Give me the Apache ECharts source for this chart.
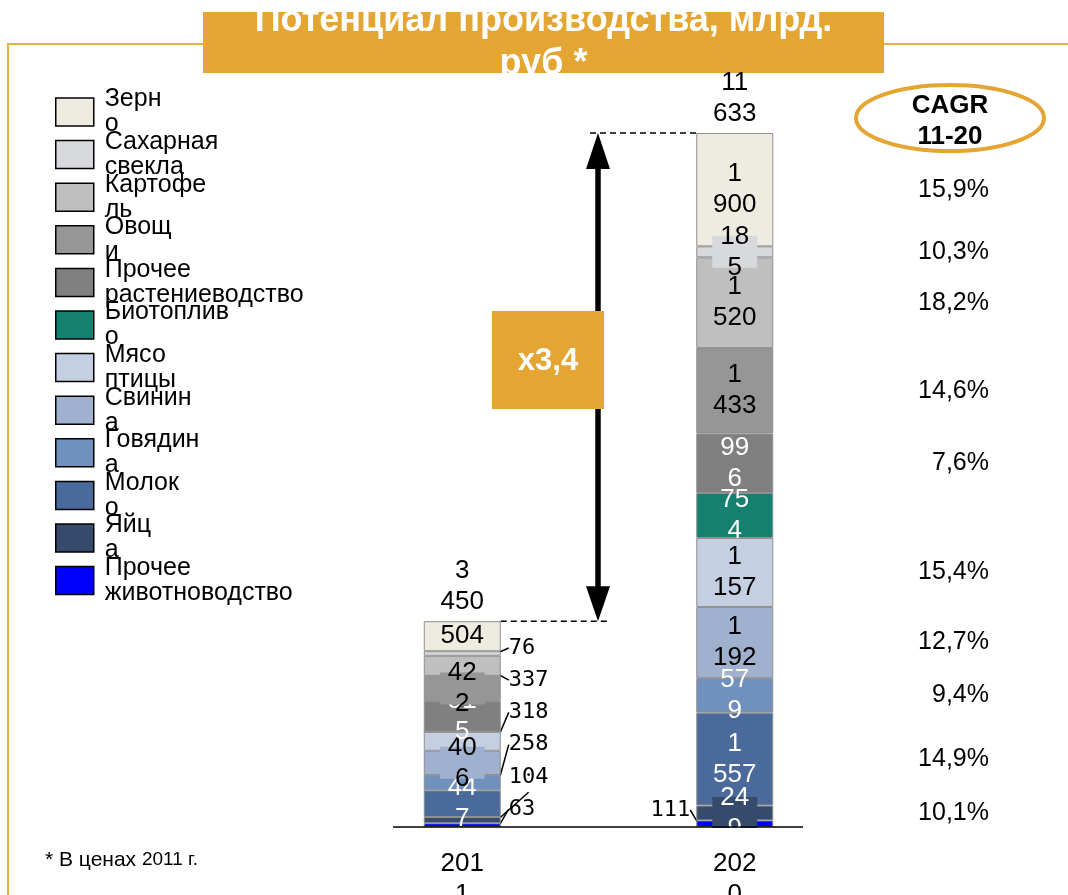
<!DOCTYPE html>
<html>
<head>
<meta charset="utf-8">
<script src="https://cdn.jsdelivr.net/npm/echarts@6/dist/echarts.min.js"></script>
<style>
  html, body { margin: 0; padding: 0; background: #fff; }
  #chart { width: 1068px; height: 895px; }
</style>
</head>
<body>
<div id="chart"></div>
<script>
// ---- data ----
const categories = ['2011', '2020'];
const products = ['Зерно', 'Сахарная свекла', 'Картофель', 'Овощи', 'Прочее растениеводство', 'Биотопливо',
  'Мясо птицы', 'Свинина', 'Говядина', 'Молоко', 'Яйца', 'Прочее животноводство'];
const values2011 = [504, 76, 337, 422, 515, 0, 318, 406, 258, 447, 104, 63];
const values2020 = [1900, 185, 1520, 1433, 996, 754, 1157, 1192, 579, 1557, 249, 111];
const cagr = ['15,9%', '10,3%', '18,2%', '14,6%', '7,6%', '', '15,4%', '12,7%', '9,4%', '14,9%', '10,1%', ''];
const legendText = ['Зерн\nо', 'Сахарная\nсвекла', 'Картофе\nль', 'Овощ\nи', 'Прочее\nрастениеводство', 'Биотоплив\nо',
  'Мясо\nптицы', 'Свинин\nа', 'Говядин\nа', 'Молок\nо', 'Яйц\nа', 'Прочее\nживотноводство'];

// ---- styles ----
const colors = ['#EEECE1', '#D8D9DC', '#BFBFBF', '#969696', '#808080', '#138070',
  '#C5CFE2', '#9FB1CE', '#7090BE', '#4A6A9C', '#364B6C', '#0000FF'];
const whiteText = [false, false, false, false, true, true, false, false, true, true, true, true];
// how each segment is labelled: [2011, 2020]
const labelMode = [
  ['flat', 'wrap'], ['out', 'wrapBox'], ['out', 'wrap'], ['wrapBox', 'wrap'], ['wrap', 'wrap'], ['none', 'wrap'],
  ['out', 'wrap'], ['wrapBox', 'wrap'], ['out', 'wrap'], ['wrap', 'wrap'], ['out', 'wrapBox'], ['out', 'outLeft']
];
const ORANGE = '#E5A532';
const W = 1068, H = 895;
const GRID = { left: 326, width: 545, top: 133, bottom: 68, outerBoundsMode: 'none', containLabel: false };
const BASE_Y = H - GRID.bottom;
const FONT = 'Liberation Sans, Arial, sans-serif';

const valuesByYear = [values2011, values2020];
const totals = valuesByYear.map(a => a.reduce((s, v) => s + v, 0));

function splitNumber(v) {
  if (v >= 1000) return Math.floor(v / 1000) + '\n' + String(v % 1000).padStart(3, '0');
  const s = String(v);
  return s.slice(0, -1) + '\n' + s.slice(-1);
}

// position of each outside label counted from the bottom of its column
function outsideRank(i, c) {
  let k = 0;
  for (let j = products.length - 1; j > i; j--) if (labelMode[j][c] === 'out') k++;
  return k;
}

const series = [];
// stack from the bottom (last product) upward
for (let i = products.length - 1; i >= 0; i--) {
  const data = categories.map((_, c) => {
    const v = valuesByYear[c][i];
    const mode = labelMode[i][c];
    const item = { value: v };
    if (mode === 'none') {
      item.label = { show: false };
    } else if (mode === 'out' || mode === 'outLeft') {
      item.label = { show: true, position: 'inside', color: '#000', fontFamily: 'DejaVu Sans Mono', fontSize: 22 };
      item.labelLine = { show: true, lineStyle: { color: '#000', width: 1.5 } };
    } else {
      item.label = { show: true, position: 'inside', color: whiteText[i] ? '#fff' : '#000' };
      if (mode === 'wrapBox') {
        // single-line-high plate behind the wrapped number
        item.label.backgroundColor = colors[i];
        item.label.padding = [-15, 8];
      }
    }
    return item;
  });
  series.push({
    name: products[i],
    type: 'bar',
    stack: 'total',
    barWidth: 77,
    silent: true,
    data: data,
    itemStyle: { color: colors[i], borderColor: '#8f8f8f', borderWidth: 1 },
    label: {
      show: true,
      fontFamily: FONT,
      fontSize: 26,
      lineHeight: 31,
      formatter: p => {
        const m = labelMode[i][p.dataIndex];
        return (m === 'flat' || m === 'out' || m === 'outLeft') ? String(p.value) : splitNumber(p.value);
      }
    },
    labelLayout: p => {
      const m = labelMode[i][p.dataIndex];
      if (m === 'out') {
        return { x: p.rect.x + p.rect.width + 8, y: BASE_Y - 18 - 32.2 * outsideRank(i, p.dataIndex),
          align: 'left', verticalAlign: 'middle' };
      }
      if (m === 'outLeft') {
        return { x: p.rect.x - 6, y: BASE_Y - 17, align: 'right', verticalAlign: 'middle' };
      }
      return {};
    }
  });
}

// column totals above the stacks
series.push({
  name: 'Итого',
  type: 'scatter',
  silent: true,
  symbolSize: 0,
  itemStyle: { opacity: 1, color: '#000' },
  data: totals.map((t, c) => [c, t]),
  label: {
    show: true, position: 'top', distance: 4, color: '#000',
    fontFamily: FONT, fontSize: 26, lineHeight: 31,
    formatter: p => splitNumber(p.value[1])
  },
  z: 5
});

const chart = echarts.init(document.getElementById('chart'), null, { renderer: 'canvas' });
chart.setOption({
  animation: false,
  backgroundColor: '#fff',
  grid: GRID,
  xAxis: {
    type: 'category',
    data: categories,
    axisLine: { show: false },
    axisTick: { show: false },
    axisLabel: {
      margin: 21, color: '#000', fontFamily: FONT, fontSize: 26, lineHeight: 31,
      formatter: s => s.slice(0, 3) + '\n' + s.slice(3)
    }
  },
  yAxis: { type: 'value', min: 0, max: totals[1], show: false, splitLine: { show: false } },
  legend: {
    data: products,
    orient: 'vertical',
    left: 55,
    top: 85.5,
    padding: 0,
    itemGap: -10.4,
    itemWidth: 38,
    itemHeight: 28,
    icon: 'rect',
    selectedMode: false,
    itemStyle: { borderColor: '#000', borderWidth: 1.5 },
    formatter: name => legendText[products.indexOf(name)],
    textStyle: { color: '#000', fontFamily: FONT, fontSize: 25, lineHeight: 25, padding: [3, 0, 0, 6] }
  },
  series: series
});

// ---- annotations tied to the value scale ----
const px = (c, v) => chart.convertToPixel({ gridIndex: 0 }, [c, v]);
const top2020 = px(1, totals[1]);
const top2011 = px(0, totals[0]);
const halfBar = 77 / 2;
const arrowX = 598;

const graphics = [
  // frame
  { type: 'polyline', z: 0, shape: { points: [[W, 44], [8, 44], [8, H]] },
    style: { stroke: '#E9AE45', lineWidth: 2, fill: null } },
  // title plate
  { type: 'rect', z: 0, shape: { x: 203, y: 12, width: 681, height: 61 }, style: { fill: ORANGE } },
  { type: 'text', z: 0, x: 543.5, y: -0.5,
    style: { text: 'Потенциал производства, млрд.\nруб *', fill: '#fff', font: 'bold 36px ' + FONT,
      lineHeight: 43, align: 'center', verticalAlign: 'top' } },
  { type: 'rect', z: 1, shape: { x: 203, y: 0, width: 681, height: 12 }, style: { fill: '#fff' } },
  { type: 'rect', z: 1, shape: { x: 203, y: 73, width: 681, height: 8 }, style: { fill: '#fff' } },
  // CAGR header
  { type: 'ellipse', z: 10, shape: { cx: 950, cy: 118, rx: 94, ry: 33 },
    style: { fill: null, stroke: ORANGE, lineWidth: 4 } },
  { type: 'text', z: 10, x: 950, y: 121,
    style: { text: 'CAGR\n11-20', fill: '#000', font: 'bold 26px ' + FONT, lineHeight: 31,
      align: 'center', verticalAlign: 'middle' } },
  // dashed guides from the column tops
  { type: 'line', z: 10, shape: { x1: top2011[0] + halfBar, y1: top2011[1], x2: 607, y2: top2011[1] },
    style: { stroke: '#000', lineWidth: 1.5, lineDash: [6, 4] } },
  { type: 'line', z: 10, shape: { x1: 590, y1: top2020[1], x2: top2020[0] - halfBar, y2: top2020[1] },
    style: { stroke: '#000', lineWidth: 1.5, lineDash: [6, 4] } },
  // growth arrow
  { type: 'line', z: 10, shape: { x1: arrowX, y1: top2020[1] + 30, x2: arrowX, y2: top2011[1] - 30 },
    style: { stroke: '#000', lineWidth: 5.5 } },
  { type: 'polygon', z: 10, shape: { points: [[arrowX, top2020[1]], [arrowX - 12, top2020[1] + 36], [arrowX + 12, top2020[1] + 36]] },
    style: { fill: '#000' } },
  { type: 'polygon', z: 10, shape: { points: [[arrowX, top2011[1]], [arrowX - 12, top2011[1] - 35], [arrowX + 12, top2011[1] - 35]] },
    style: { fill: '#000' } },
  { type: 'rect', z: 11, shape: { x: 492, y: 311, width: 112, height: 98 }, style: { fill: ORANGE } },
  { type: 'text', z: 11, x: 548, y: 361,
    style: { text: 'x3,4', fill: '#fff', font: 'bold 31px ' + FONT, align: 'center', verticalAlign: 'middle' } },
  // clip label overflow below the baseline, then the baseline itself
  { type: 'rect', z: 12, shape: { x: 393, y: BASE_Y + 1, width: 411, height: 20 }, style: { fill: '#fff' } },
  { type: 'line', z: 13, shape: { x1: 393, y1: BASE_Y, x2: 803, y2: BASE_Y },
    style: { stroke: '#000', lineWidth: 1.5 } },
  // footnote
  { type: 'text', z: 10, x: 45, y: 860,
    style: { text: '{a|* В ценах }{b|2011 г.}', fill: '#000', verticalAlign: 'middle',
      rich: { a: { fontSize: 21, fontFamily: FONT }, b: { fontSize: 19, fontFamily: FONT } } } }
];

// CAGR values beside the centre of each 2020 segment
let below = 0;
for (let i = products.length - 1; i >= 0; i--) {
  const v = values2020[i];
  if (cagr[i]) {
    const y = px(1, below + v / 2)[1];
    graphics.push({ type: 'text', z: 10, x: 989, y: y,
      style: { text: cagr[i], fill: '#000', font: '25px ' + FONT, align: 'right', verticalAlign: 'middle' } });
  }
  below += v;
}

chart.setOption({ graphic: graphics });
</script>
</body>
</html>
